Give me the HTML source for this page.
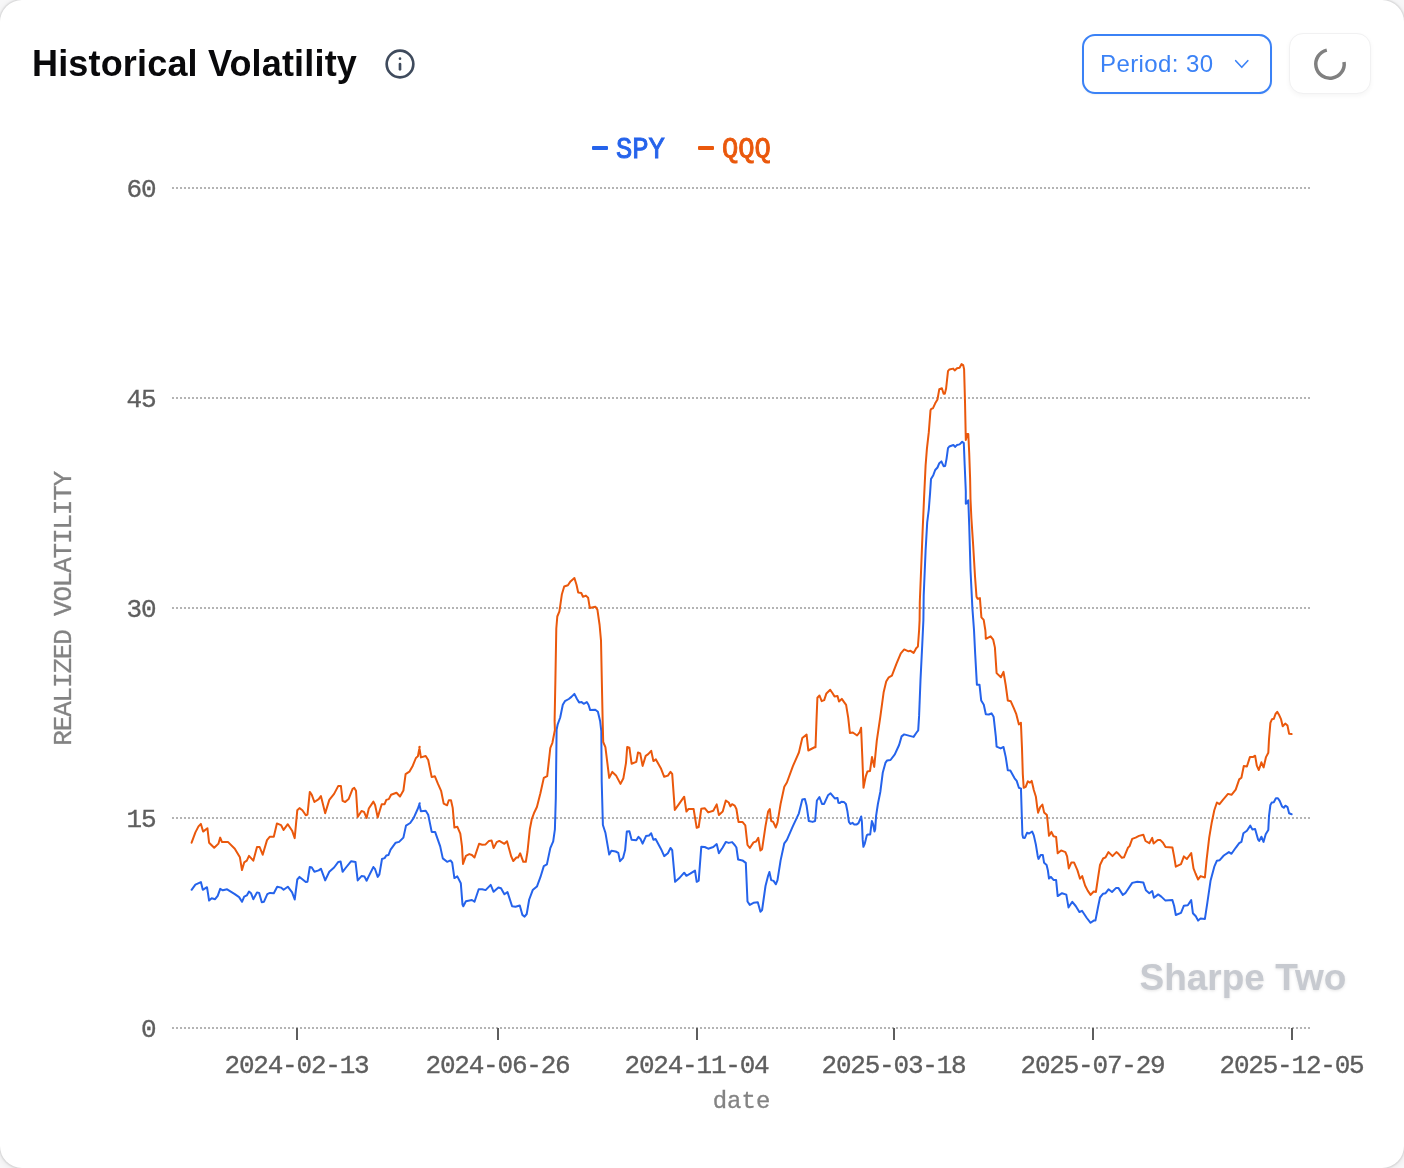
<!DOCTYPE html>
<html lang="en">
<head>
<meta charset="utf-8">
<title>Historical Volatility</title>
<style>
  html, body { margin: 0; padding: 0; }
  body {
    width: 1404px; height: 1168px; overflow: hidden; position: relative;
    background: #f7f7f8;
    font-family: "Liberation Sans", sans-serif;
  }
  .card {
    position: absolute; left: 0; top: 0; width: 1404px; height: 1168px;
    box-sizing: border-box; background: #ffffff;
    border-radius: 22px; will-change: transform;
    box-shadow: 0 0 2px 1px rgba(0,0,0,0.12), 0 1px 6px 1px rgba(0,0,0,0.07);
  }
  .title {
    position: absolute; left: 32px; top: 43px; margin: 0;
    font-size: 36px; line-height: 42px; font-weight: bold; color: #09090b;
    white-space: nowrap; letter-spacing: 0.17px;
  }
  .info { position: absolute; left: 384px; top: 48px; width: 32px; height: 32px; }
  .period {
    position: absolute; left: 1082px; top: 34px; width: 190px; height: 60px;
    box-sizing: border-box; border: 2px solid #3b82f6; border-radius: 13px;
    background: #fff; color: #3b82f6; font-size: 24px; line-height: 28px;
    box-shadow: 0 1px 2px rgba(0,0,0,0.05);
  }
  .period span { position: absolute; left: 16px; top: 14px; white-space: nowrap; letter-spacing: 0.4px; }
  .period svg { position: absolute; left: 146px; top: 20px; width: 24px; height: 20px; }
  .refresh {
    position: absolute; left: 1289px; top: 33px; width: 82px; height: 61px;
    box-sizing: border-box; border: 1px solid #f1f1f2; border-radius: 14px;
    background: #fff; box-shadow: 0 2px 5px rgba(0,0,0,0.04);
  }
  .refresh svg { position: absolute; left: 20px; top: 10px; width: 40px; height: 40px; }
  .legend {
    position: absolute; top: 131px; height: 34px; line-height: 34px;
    font-family: "Liberation Mono", monospace; font-weight: normal; font-size: 28px; -webkit-text-stroke: 0.9px currentColor;
    white-space: nowrap;
  }
  .legend i { position: absolute; top: 15px; width: 16px; height: 4px; border-radius: 1px; }
  .legend .lt { position: absolute; left: 24px; top: 0; transform-origin: 0 24px; transform: translateY(3px) scale(0.97, 1.07); }
  .chart { position: absolute; left: 0; top: 0; width: 1404px; height: 1168px; }
  .chart text { font-family: "Liberation Mono", monospace; font-size: 24px; }
  .chart g.num text, .chart text.cap { font-size: 26px; letter-spacing: -1.2px; }
  .chart g.num text { stroke: #5e5e5e; stroke-width: 0.35px; }
  .chart text.cap, .chart text.lbl { stroke: #838383; stroke-width: 0.3px; }
  .chart text.wm { filter: drop-shadow(0 1px 1.5px rgba(0,0,0,0.10)); }
  .chart text.wm { font-family: "Liberation Sans", sans-serif; font-size: 37px; font-weight: bold; }
</style>
</head>
<body>
<div class="card">
  <h2 class="title">Historical Volatility</h2>
  <svg class="info" viewBox="0 0 24 24" fill="none" stroke="#3f4b5d" stroke-width="2" stroke-linecap="round" stroke-linejoin="round">
    <circle cx="12" cy="12" r="10"/><path d="M12 16v-4"/><path d="M12 8h.01"/>
  </svg>

  <div class="period"><span>Period: 30</span>
    <svg viewBox="0 0 24 20" fill="none" stroke="#3b82f6" stroke-width="1.6" stroke-linecap="round" stroke-linejoin="round"><path d="M5.7 4.7l6.05 6.6 6.05-6.6"/></svg>
  </div>
  <div class="refresh">
    <svg viewBox="0 0 40 40" fill="none" stroke="#808080" stroke-width="3.5">
      <path d="M34.04 17.9 A14.2 14.2 0 1 1 16.81 6.16"/>
    </svg>
  </div>

  <div class="legend" style="left:592px; color:#2563eb;"><i style="left:0; background:#2563eb;"></i><span class="lt">SPY</span></div>
  <div class="legend" style="left:698px; color:#ea580c;"><i style="left:0; background:#ea580c;"></i><span class="lt">QQQ</span></div>

  <svg class="chart" viewBox="0 0 1404 1168">
    <g stroke="#b4b4b4" stroke-width="2" stroke-dasharray="2 2" fill="none"><line x1="172" y1="188" x2="1310" y2="188"/><line x1="172" y1="398" x2="1310" y2="398"/><line x1="172" y1="608" x2="1310" y2="608"/><line x1="172" y1="818" x2="1310" y2="818"/><line x1="172" y1="1028" x2="1310" y2="1028"/></g>
    <g stroke="#5e5e5e" stroke-width="2" fill="none"><line x1="297" y1="1028" x2="297" y2="1040"/><line x1="498" y1="1028" x2="498" y2="1040"/><line x1="697" y1="1028" x2="697" y2="1040"/><line x1="894" y1="1028" x2="894" y2="1040"/><line x1="1093" y1="1028" x2="1093" y2="1040"/><line x1="1292" y1="1028" x2="1292" y2="1040"/></g>
    <g class="num" fill="#5e5e5e"><text x="155.4" y="197.3" text-anchor="end">60</text><text x="155.4" y="407.3" text-anchor="end">45</text><text x="155.4" y="617.3" text-anchor="end">30</text><text x="155.4" y="827.3" text-anchor="end">15</text><text x="155.4" y="1037.3" text-anchor="end">0</text><text x="296.5" y="1073" text-anchor="middle">2024-02-13</text><text x="497.5" y="1073" text-anchor="middle">2024-06-26</text><text x="696.5" y="1073" text-anchor="middle">2024-11-04</text><text x="893.5" y="1073" text-anchor="middle">2025-03-18</text><text x="1092.5" y="1073" text-anchor="middle">2025-07-29</text><text x="1291.5" y="1073" text-anchor="middle">2025-12-05</text></g>
    <text class="lbl" x="741.5" y="1107.5" text-anchor="middle" fill="#838383">date</text>
    <text class="cap" transform="translate(70.8 608.8) rotate(-90)" text-anchor="middle" fill="#838383">REALIZED VOLATILITY</text>
    <text class="wm" x="1139.5" y="990" fill="#c7cad0">Sharpe Two</text>
    <polyline fill="none" stroke="#2563eb" stroke-width="2" stroke-linejoin="round" stroke-linecap="round" points="191.6,889.8 195.4,884.7 200.9,882.1 202.8,889.8 207,887.2 209.1,900.6 211.7,898.3 215.1,899.2 217.7,895.8 220.2,888.9 222.8,890.3 227.1,889.3 234.8,894.1 239.1,897.1 242,901.8 244.2,896.6 246.8,895.4 249,891.5 251,893.2 253.3,899.2 257,892.4 259.1,892.9 261.8,902.3 263.9,901.8 267.3,894.1 269.9,892.9 273.8,893.2 277.2,886.7 281,887.6 283.6,889.8 287.8,886.7 292.1,892.4 294.7,899.5 297.3,879.5 299.5,876.9 305.8,882.1 307.5,881.7 309.8,867 311.8,867.5 314.4,871.8 318.7,870.4 320.9,868.7 325.2,880.4 329.3,871.8 334.1,867.5 338.3,861.9 340.6,861.5 342.6,871.8 346,867.5 351.2,861.2 355.5,861.9 357.7,880.4 361.5,876.1 364.5,876.6 366.6,880.7 368.8,876.1 373.4,867 375.1,869.2 377.7,876.9 379.4,874.4 382,859 384.6,858.1 386.3,855.5 388.5,855 390.6,849.6 395.7,842.7 399.1,841.9 403.4,837.6 406,825.6 410.2,823 413.7,817.9 417.9,808.5 419.7,803.3 419.3,804 420.9,811.3 425.7,810.8 428.2,814.7 431.7,831.9 435.1,831.9 440.2,846.4 442.8,858.4 447.1,861.8 450.5,860.4 452.2,862.7 454.4,878.1 457.3,876.4 460.8,883.2 462.5,904.6 463.3,906.3 465.9,901.2 471.9,900 474.5,901.7 478.7,889.2 482.2,889.2 485.6,890.1 490.7,884.9 493.6,891.8 498.4,887.5 501,888.3 504.4,894.3 507.5,892.1 512.1,906.3 515.5,906.8 519.8,905.5 522.4,914.9 524.6,916.6 526.7,914 529.2,899.5 532.7,890.1 536.9,886.6 540.4,877.2 543.8,866.1 546.9,864.4 550.3,848.1 553.2,841.3 554.9,829.3 555.8,798.5 556.6,730 556.3,731.2 557.7,724.3 560.2,717.5 562.8,704.7 564.9,701.2 568.8,699 571.4,696.9 574.4,693.9 577,699 579.1,702.4 581.6,702.1 583.7,703.8 586.8,702.1 588.5,704.7 590.2,710.1 595.3,709.8 597.9,711.8 600.1,720.9 601.3,731.2 601.7,781.4 602.9,825 605.4,832.7 609.2,854.6 611.4,850.7 615.7,851.5 618.3,852.9 620,861.2 623.1,857.8 625.1,850.1 626.8,831.6 629.4,831.3 631.6,839.8 636.3,840.3 638.5,836.9 640.5,839 642.6,843.6 646,836.1 649.1,835.5 651.2,833.3 653.4,839.8 655.6,839 661.1,849.2 664.2,856.1 667.9,853.2 670.5,848 672.2,850.1 675.1,881.8 679.1,878.3 684.2,872.7 686.4,875.8 690.2,873.7 695,870.6 696.7,881.8 698.7,880.6 701.3,846.7 704.7,847 708.2,848.7 713.3,847 716.7,844.1 718.9,853.2 722.7,847.5 725.8,841.9 728.7,842.9 732.1,842.1 734.7,845 736.4,847.5 738.1,859.5 742.4,860.4 745.8,862.9 747.5,901.5 749.8,904.9 753.5,902.8 757.8,902.3 760.4,911.7 762.1,910 765.5,886 768.1,875.8 769.4,872 771.2,880.1 773.6,880.9 775.8,884.3 777.5,880.1 780.6,860.4 784.3,843.3 786.9,839.8 792.9,826.1 798.9,813.3 802.3,799.6 804.9,799.1 806.6,805.6 808.8,821 812.6,821.9 815.1,821 816.9,800.5 819.4,797 822,803.9 824.1,803.9 828,795.3 830.6,793.3 834.8,798.4 837.1,797.9 837.5,798 838.4,802.8 839.6,803.1 841.4,801.7 843.8,801.9 845.9,804 847.4,811.2 848.9,821.9 850.4,824 852.5,822.8 854.3,824.6 856.4,824.6 858.5,823.1 861.2,816.5 861.9,821.9 862.7,839.9 863.4,846.8 864.8,843.5 866.9,835.1 868.1,834.5 870.2,834.5 871,827.9 871.9,821 873.1,824 874.5,831.5 875.2,829.1 876.1,815.9 877.9,804 880.3,792 882.8,772.4 885.4,762.9 887.1,760.4 890.5,760 894.8,754.4 899.1,745 901.6,736.4 904.2,734.4 910.5,736.1 913.6,736.9 916.2,733 918.2,730.4 919.1,715.9 920.5,679.9 922.2,645.7 923.4,620 923.7,595.5 925.6,550.6 927.2,522.4 928.8,509.5 930.1,492.8 931,479 933.3,475.2 935.2,470 937.5,467.5 939.3,463.2 941.4,461.4 943.6,466.2 945.2,465.9 946.5,459.1 948,448.2 949.3,446.5 953.4,445 955.1,446.9 957,445 959.6,444.4 962.2,441.8 963.8,443.1 964.7,465.5 965.8,491.2 965.8,503.8 966.7,503.1 968.3,500.3 969.2,524.9 970.5,569.9 972.4,608.4 974,630 975.2,654.2 976.9,684.7 979.5,684.7 981.2,700.5 983.8,704.7 985.8,714.2 988.9,714.5 991.5,713.3 993.6,716.7 995.8,736.4 996.6,746.7 1000.6,748.4 1003.5,747 1005.7,756.9 1007.8,770.3 1010.3,770.6 1014.6,778.3 1016.7,780.9 1018.9,787.8 1021.1,788.6 1021,790 1021.8,815.7 1022.4,834.5 1023.1,837.8 1024.8,837.9 1027,832.8 1029.1,833.5 1032.1,831.5 1033.8,835.4 1035.9,844.8 1037.7,855.9 1038.5,858.9 1040.7,855 1042.8,854.9 1044.1,862.8 1046.6,864.9 1047.9,870.5 1049,878.6 1050.9,876.9 1053.5,879.9 1056.1,879.9 1057.7,896.1 1062,893.2 1066.3,894.6 1068.5,907.4 1072.3,901.8 1075.7,906 1079.4,912 1082,910.8 1086.8,918 1090.6,922.8 1093.7,920.6 1095.4,920.6 1097.9,907.8 1100,897.5 1103.1,893.7 1105.6,893.2 1108.5,889.3 1112,892 1115.9,888.1 1118.5,888.1 1122.8,894.9 1125.3,893.2 1132.2,882.9 1137.3,881.7 1143.3,882.4 1145.9,890.3 1149.3,893.2 1152.2,891 1153.9,897.8 1158.2,894.4 1161.3,896.6 1165.5,900.6 1172.4,900.1 1174.1,905.7 1175.8,915 1181,912.9 1183.9,905.7 1187.8,905.2 1191.2,900.1 1192.9,913.2 1195.8,916.3 1198.1,920.6 1200.6,918.5 1204.9,918.9 1207.1,904.3 1210.6,880.4 1214.3,866.7 1216.9,860.7 1219.5,860.3 1223.8,855.5 1228.9,852.1 1231.5,853.8 1235.7,847.8 1239.2,843.2 1241.4,841.9 1243.4,833.3 1246.9,830.7 1250.3,825.6 1252.3,829.4 1255.1,829 1258,839.3 1259.2,841 1261.4,836.7 1263.5,841.9 1265.7,834.2 1268.3,829.9 1269,816 1270.4,805 1271.8,802.6 1273.8,802.3 1275.9,798.2 1277.9,798.2 1279.7,800.9 1282,806.4 1283.8,807.8 1285.4,805.7 1287.5,807.1 1289.1,813.3 1291.6,814.3"/>
    <polyline fill="none" stroke="#ea580c" stroke-width="2" stroke-linejoin="round" stroke-linecap="round" points="191.6,842.7 195.4,832.4 198.5,826.4 200.9,823.9 203.1,831.6 207.4,828.2 209.1,842.7 214.2,847.8 218.5,843.6 220.2,837.6 221.9,841.9 227.9,841.9 234.8,848.7 239.9,857.3 242,870.1 244.2,862.4 246.8,860.7 249,855.9 253.3,860.7 257,847 259.6,847 262.7,854.7 267,840.1 269.9,836.7 273.8,836.7 276.9,823.4 281,825.1 283.6,829.9 287.8,824.2 292.1,830.7 294.7,838.1 297.3,810.2 299.5,808.1 302.4,810.2 305.8,815.3 307.5,814.5 309.8,791.9 311.8,794.8 314.4,802 318.7,799.1 320.9,796.1 325.2,813.3 329.3,799.9 334.1,793.9 338.3,785.9 340.9,785.9 342.6,800.8 345.2,802 348.6,799.1 352.6,788.8 354.3,787.9 356,790.8 357.7,817 361.5,811 364,811.9 366.6,817.9 368.8,808.5 373.4,801.6 375.1,805 377.7,817.4 381.7,804.2 384.6,804.2 386.3,799.9 388.8,799.1 391.1,794.8 396.5,792.7 400,796.5 403.4,790.5 405.6,774.2 409.4,771.7 412.8,765.7 415.9,758 417.9,756.3 419.7,746.8 419.3,747.1 420.9,757.4 425.7,756 428.2,760 431.7,777.1 434.8,776.2 438,783.9 441.1,790.8 443.7,803.6 447.1,805.3 448.8,800.2 451,800.2 452.7,807.9 454.4,827.6 457.3,826.7 460.3,833.6 462,846.4 463,863.9 465.9,855.8 469.3,854.1 471.9,855 474.5,857.5 479.1,843.8 482.2,844.7 485.6,844.4 489,840.9 491.6,840.4 493.6,848.1 496.7,842.1 499.3,840.9 504.4,843.8 507,841.3 511.3,856.7 513.3,861 516.4,857.5 518.1,857.5 520.2,853.3 523.3,861.8 525.8,861.8 527.5,851.5 529.8,829.3 531.8,819 534.4,812.2 536.9,807 540.4,793.3 543.8,777.9 547.2,776.2 550.3,748 552.4,742.8 554.9,730 554.6,720.9 555.4,679.8 556.3,628.5 557.3,616.5 559.4,611.4 561.9,594.2 564.2,586.5 567.9,585.3 570.5,581.4 574.4,578 576.5,584.8 578.2,592.5 581.3,593 583,596.8 585.9,595.6 588.1,597.7 589.8,607.9 595.3,606.7 597.4,609.6 599.6,625 601,640.5 601.8,679.8 602.7,722.6 603.2,742 605.4,747.1 609.2,777.9 612.3,771.9 616,775.4 620.5,783.9 623.4,778.2 626,762.8 627.2,747 629.4,747.7 631.6,763.7 636.3,761.9 638,752.5 640.2,753.4 642.6,765.9 645.7,755.9 648.2,754.2 651.2,750.8 653.4,761.1 655.9,759.4 661.1,768.8 664.2,776.8 667.9,775.6 670.5,771.9 672.2,773.9 674.8,809.9 679.1,803.9 684.2,796.7 686.4,811.6 688.5,809 693.6,809 696.7,827.8 698.7,827 701.3,808.7 704.7,808.2 708.2,812.4 713.3,810.7 716.7,804.4 718.9,815 722.7,811.6 725.8,800.5 728.7,802.5 730.4,806.4 732.1,804.2 734.7,805.6 736.4,809 738.5,821.9 742.4,821.9 745.3,825.3 747.5,845 749.8,848 753.5,842.4 756.1,841.5 758.3,837.8 760.4,850.6 762.1,849.2 765.5,826.1 768.1,811.6 769.8,809 771.2,821 773.2,821.9 775.8,827.5 777.5,822.7 780.6,803.9 784.3,786.8 786.9,782.5 792.9,766.2 798.9,752.5 802.3,738 806.6,734.6 808.3,750.5 815.1,747 815.5,747.3 816.5,719.9 817.4,697.7 819.5,695.5 821.7,701.1 824.2,700.1 826.4,693.4 830.2,689.8 832.4,693 834.5,696.4 837.5,695.9 839,701.5 841.8,698.9 843.9,701.8 846.1,704.9 848.2,717.6 849.9,733 852.8,732.5 857.1,735.5 859.7,732.1 861.1,727.8 862.3,756.9 863.5,787.8 865.7,776.6 867.4,771.5 870,771 872,756.9 874.2,766.9 876.8,740.7 880.2,717.6 883.7,691.9 886.2,681.6 888.8,677.3 891.9,675.6 896.5,663.7 900.8,653.4 904.2,649.4 908.5,651.3 910.5,650.8 913.6,652.9 916.2,648.2 917.9,646.5 919.1,630.3 919.6,620 919.8,602 921.1,569.9 922.6,531.4 924,499.3 925.6,465.5 926.9,448.9 928.8,432.2 930.5,410.3 931.4,408.8 932.9,408.4 935.2,403.3 937.5,399.4 939.3,389.2 941.9,388.3 943.6,393.7 944.8,393.7 946.1,388.5 948,371.2 949.3,369.5 953.2,368.6 954.7,370.5 957,368.2 959.6,367.7 961.5,364.1 963.2,365.1 964.1,369.3 965,401.4 965.8,439.9 967.3,434.1 968.3,434.1 969.2,452.7 970.1,478.4 970.5,499.3 971.4,518.5 973.1,544.2 975,576.3 976.5,596.8 977.6,598.8 979.9,598.1 981.4,617.4 983.7,619.9 985.3,630 985.5,632 985.8,638.8 990.6,636.3 993.2,639.7 994.9,647.4 996.6,673.1 1000.9,677.3 1003.5,671.9 1005.7,685 1007.8,700.5 1010.8,701.3 1013.8,708.2 1016.3,714.2 1018.9,724.4 1020.9,722.7 1022,748.4 1022.8,774.1 1023.7,787.8 1025.7,786.9 1027.8,781.3 1030,782.6 1031.7,780.9 1033.8,790 1035.9,796.8 1037.2,807.1 1038.1,812.7 1040.2,807.1 1042.4,804.6 1044.1,812.4 1046.9,815 1047.9,824.2 1049,835.8 1051.4,831.9 1053.5,836.2 1056.1,836.9 1057.7,853.3 1061.1,850.4 1065.4,852.1 1067.1,856.4 1068.8,868.4 1071.4,862.4 1074,862.4 1077.4,870.1 1080,878.7 1082.2,876.1 1085.1,885.5 1087.7,890.6 1090.6,894.9 1093.7,891.5 1095.9,892 1097.9,878.7 1100,865 1103.1,858.5 1105.6,857.3 1108.5,852.1 1112.5,856.1 1116.4,852.1 1118.5,853.8 1121.9,857.8 1124,857.3 1127.9,847.8 1129.6,846.1 1132.2,838.9 1135.6,837.6 1139,835.9 1143.3,834.7 1145.5,841 1149.3,843.2 1152.2,837.9 1153.6,843.6 1157.8,840.1 1160.4,840.1 1163,842.7 1165.5,847 1172.4,847.5 1174.1,856.4 1175.8,866.7 1181,864.1 1183.9,856.4 1186.9,859 1191.2,853 1193.5,868.4 1195.5,873.5 1198.1,879.5 1200.6,876.1 1204.9,877.5 1206.6,859.8 1209.2,837.6 1211.8,822.2 1214.3,810.2 1216.9,802.5 1219.5,804.2 1222.9,799.9 1228,793.9 1231.5,794.8 1235.7,789.6 1239.2,779.4 1241.4,777.7 1243.8,766 1246.9,766.5 1249.9,757.1 1252.9,757.1 1255.1,755.7 1256.8,765.7 1258.8,770 1261.4,762.3 1263.6,767.4 1266,757.1 1268.3,752.8 1269,739.3 1270.4,722.9 1272,719.2 1273.8,718.8 1275.5,714 1277.2,711.9 1279.3,715.3 1281.1,719.4 1282.7,726.3 1285.2,723.6 1287.5,725.6 1289.1,733.8 1291.6,734.1"/>
  </svg>
</div>
</body>
</html>
